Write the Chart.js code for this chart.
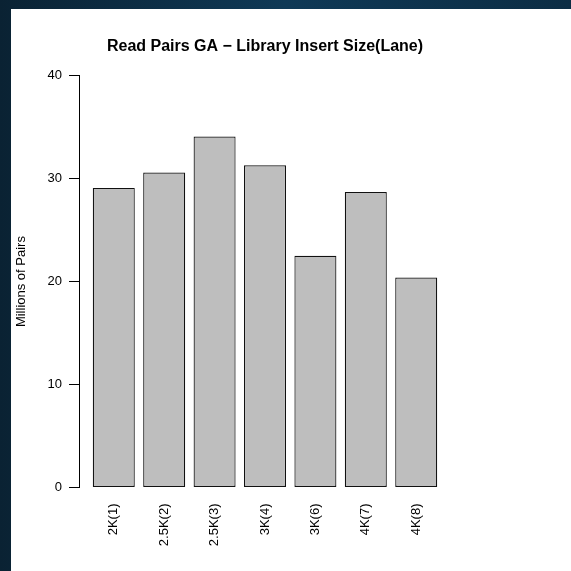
<!DOCTYPE html>
<html>
<head>
<meta charset="utf-8">
<script src="https://cdn.jsdelivr.net/npm/chart.js@4/dist/chart.umd.min.js"></script>
<style>
  html, body { margin: 0; padding: 0; width: 571px; height: 571px; overflow: hidden; }
  body { background: linear-gradient(90deg, #0a2233 0%, #0f3956 50%, #0c2d44 100%); position: relative; }
  #panel { position: absolute; left: 11px; top: 9px; right: 0; bottom: 0; background: #ffffff; }
  #chart { position: absolute; left: 0; top: 0; }
</style>
</head>
<body>
<div id="panel"></div>
<canvas id="chart" width="571" height="571"></canvas>
<script>
// Lanes grouped by library insert size
const categories = ['2K(1)', '2.5K(2)', '2.5K(3)', '3K(4)', '3K(6)', '4K(7)', '4K(8)'];
// Read pairs per lane, in millions
const readPairs = [29.1, 30.6, 34.1, 31.3, 22.5, 28.7, 20.4];
// Y axis ticks
const yTicks = [0, 10, 20, 30, 40];

// barplot-style layout: bar width 1, space 0.2 between bars
const SPACE = 0.2;
const centers = categories.map((_, i) => SPACE + 0.5 + i * (1 + SPACE));
const xLo = SPACE, xHi = categories.length * (1 + SPACE);
const pad = (xHi - xLo) * 0.04;

const FONT = "'Liberation Sans', Arial, Helvetica, sans-serif";

new Chart(document.getElementById('chart'), {
  type: 'bar',
  data: {
    datasets: [{
      data: categories.map((c, i) => ({ x: centers[i], y: readPairs[i] })),
      backgroundColor: '#bebebe',
      borderColor: '#111111',
      borderWidth: 1.2,
      borderSkipped: false,
      categoryPercentage: 1,
      barPercentage: 1 / (1 + SPACE)
    }]
  },
  options: {
    responsive: false,
    animation: false,
    events: [],
    layout: { padding: { left: 0, right: 120, top: 0, bottom: 0 } },
    plugins: {
      legend: { display: false },
      tooltip: { enabled: false },
      title: {
        display: true,
        text: 'Read Pairs GA \u2212 Library Insert Size(Lane)',
        color: '#000',
        fullSize: false,
        font: { family: FONT, size: 16, weight: 'bold' },
        padding: { top: 37, bottom: 19.5 }
      }
    },
    scales: {
      x: {
        type: 'linear',
        offset: false,
        min: xLo - pad,
        max: xHi + pad,
        grid: { display: false, drawTicks: false, tickLength: 0 },
        border: { display: false },
        afterBuildTicks: (scale) => { scale.ticks = centers.map(v => ({ value: v })); },
        afterFit: (scale) => { scale.height = 83.5; },
        ticks: {
          autoSkip: false,
          minRotation: 90,
          maxRotation: 90,
          padding: 16,
          color: '#000',
          font: { family: FONT, size: 13 },
          callback: (value, index) => categories[index]
        }
      },
      y: {
        min: 0,
        max: 40,
        afterBuildTicks: (scale) => { scale.ticks = yTicks.map(v => ({ value: v })); },
        afterFit: (scale) => { scale.width = 79; },
        grid: { drawOnChartArea: false, tickLength: 10, color: '#000', tickColor: '#000' },
        border: { display: true, color: '#000', width: 1 },
        ticks: {
          padding: 7,
          color: '#000',
          font: { family: FONT, size: 13 }
        },
        title: {
          display: true,
          text: 'Millions of Pairs',
          color: '#000',
          font: { family: FONT, size: 13 },
          padding: { top: 14, bottom: 0 }
        }
      }
    }
  }
});
</script>
</body>
</html>
